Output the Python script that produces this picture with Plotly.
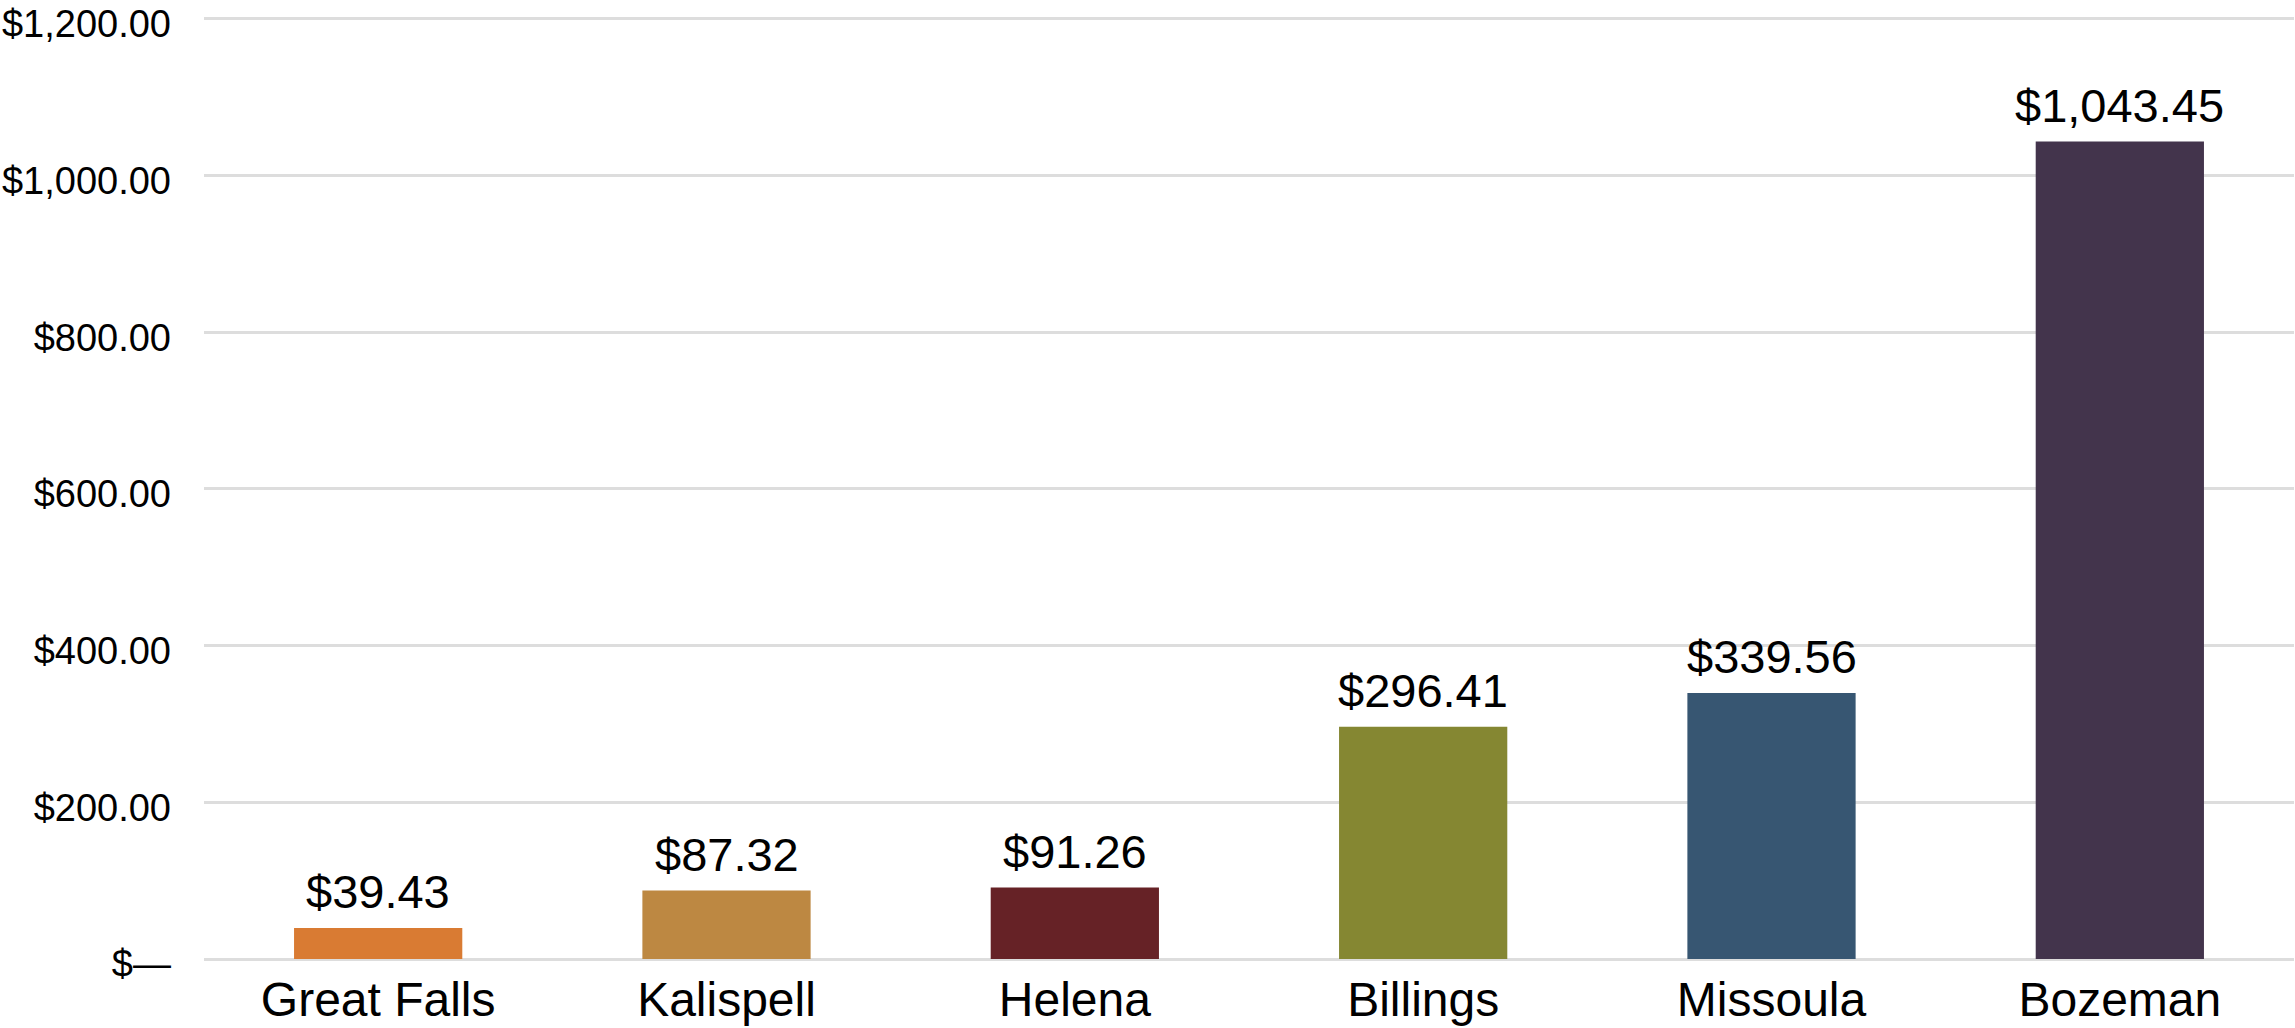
import plotly.graph_objects as go

cities = ["Great Falls", "Kalispell", "Helena", "Billings", "Missoula", "Bozeman"]
values = [39.43, 87.32, 91.26, 296.41, 339.56, 1043.45]
colors = ["#D97B33", "#BD8842", "#662226", "#858732", "#375672", "#43344C"]
y_tick_vals = [0, 200, 400, 600, 800, 1000, 1200]
y_tick_text = ["$\u2014", "$200.00", "$400.00", "$600.00", "$800.00", "$1,000.00", "$1,200.00"]

FONT = "Liberation Sans, Arial, sans-serif"

fig = go.Figure(
    go.Bar(
        x=cities,
        y=values,
        marker=dict(color=colors, line=dict(width=0)),
        hoverinfo="x+y",
    )
)

for c, v in zip(cities, values):
    fig.add_annotation(
        x=c, y=v, xref="x", yref="y",
        text=f"${v:,.2f}",
        showarrow=False,
        yanchor="bottom",
        yshift=8,
        font=dict(family=FONT, size=47, color="#000000"),
    )

fig.update_layout(
    width=2295,
    height=1028,
    margin=dict(l=204, r=1, t=15, b=69),
    paper_bgcolor="white",
    plot_bgcolor="white",
    bargap=0.517,
    showlegend=False,
    font=dict(family=FONT, color="#000000"),
)
fig.update_xaxes(
    showgrid=False,
    showline=False,
    ticks="",
    automargin=False,
    ticklabelstandoff=8,
    ticklabeloverflow="allow",
    tickfont=dict(family=FONT, size=48, color="#000000"),
)
fig.update_yaxes(
    range=[0, 1205],
    tickvals=y_tick_vals,
    ticktext=y_tick_text,
    showgrid=True,
    gridcolor="#DDDDDD",
    gridwidth=2.5,
    zeroline=True,
    zerolinecolor="#DDDDDD",
    zerolinewidth=2.5,
    showline=False,
    ticks="",
    automargin=False,
    ticklabelstandoff=32,
    ticklabelshift=5,
    ticklabeloverflow="allow",
    tickfont=dict(family=FONT, size=38, color="#000000"),
)

fig.write_html(
    "out.html",
    config={"displayModeBar": False},
    post_script="document.body.style.margin='0';document.body.style.overflow='hidden';",
)
